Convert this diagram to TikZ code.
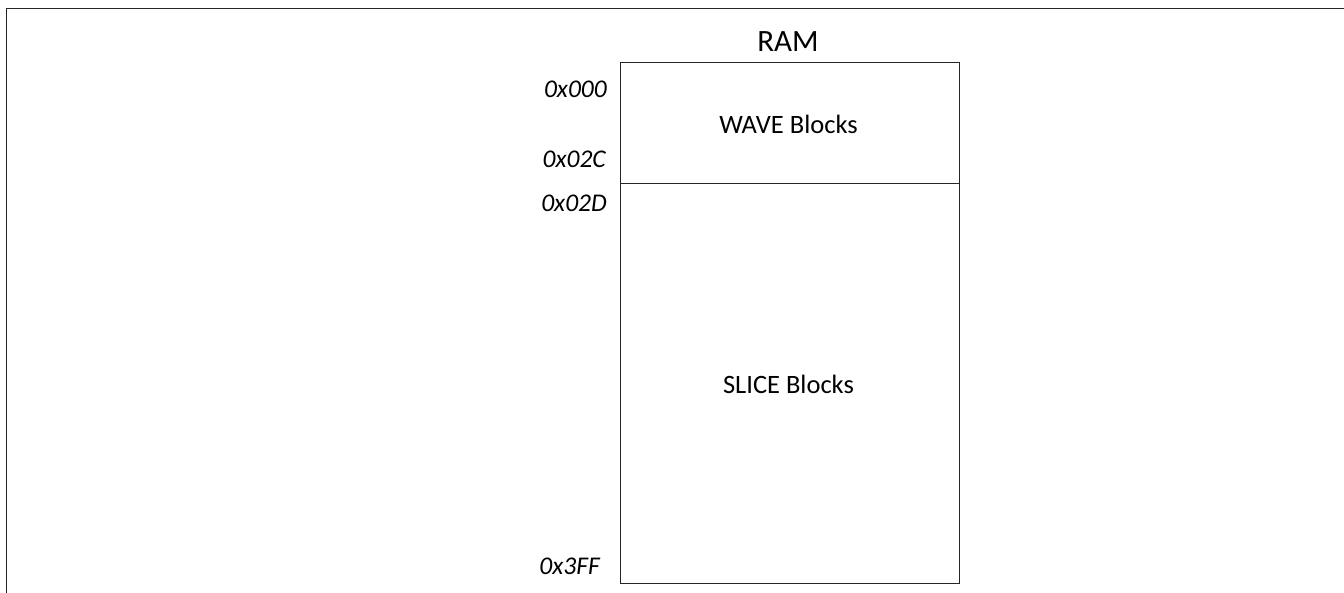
\documentclass[tikz,border=0pt]{standalone}
\usepackage{fontspec}
\setmainfont{Carlito}
\begin{document}
\begin{tikzpicture}[x=1pt,y=-1pt,
  region/.style={draw=black!85,line width=1pt},
  addr/.style={anchor=east,font=\fontsize{25.5}{28}\selectfont\itshape,inner sep=0pt},
  lbl/.style={font=\fontsize{26.5}{30}\selectfont,inner sep=0pt},
  frameline/.style={draw=black!85,line width=1.8pt}]
\useasboundingbox (0,0) rectangle (1344,593);
\draw[frameline] (6.5,600) -- (6.5,8.5) -- (1350,8.5);
\coordinate (tl) at (620,63);
\coordinate (mr) at (959,184);
\coordinate (ml) at (620,184);
\coordinate (br) at (959,583);
\draw[region] (tl) rectangle (mr);
\draw[region] (ml) rectangle (br);
\node[lbl,font=\fontsize{31}{34}\selectfont] (ram) at (788,42) {RAM};
\node[lbl] (wave) at (788.5,124) {WAVE Blocks};
\node[lbl] (slice) at (788.5,384) {SLICE Blocks};
\node[addr] (a0) at (607,89) {0x000};
\node[addr] (a1) at (606,159) {0x02C};
\node[addr] (a2) at (607,203) {0x02D};
\node[addr] (a3) at (600,566) {0x3FF};
\end{tikzpicture}
\end{document}
